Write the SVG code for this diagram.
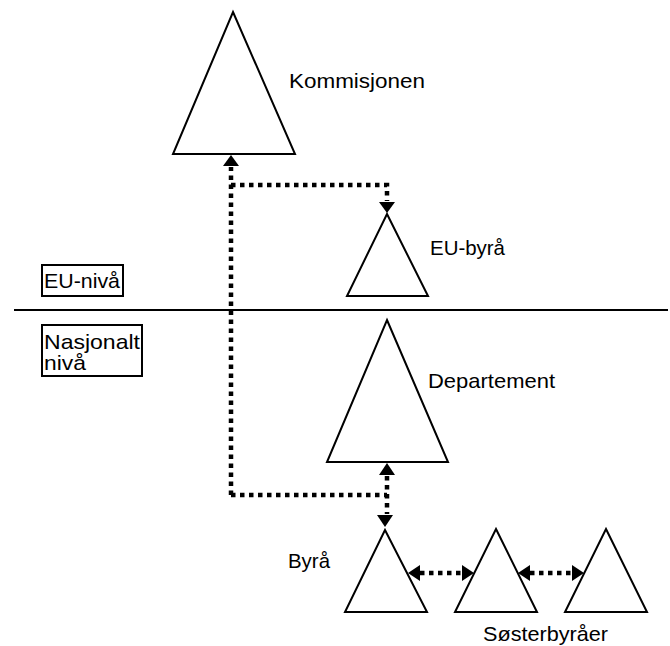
<svg xmlns="http://www.w3.org/2000/svg" width="670" height="646" viewBox="0 0 670 646">
<defs>
<style>
.tri{fill:#fff;stroke:#000;stroke-width:2}
.lbl{font-family:"Liberation Sans",Arial,sans-serif;font-size:21px;fill:#000}
.dot{fill:none;stroke:#000;stroke-width:4.5;stroke-dasharray:4.5 4.5}
.box{fill:#fff;stroke:#000;stroke-width:2}
.ah{fill:#000}
</style>
</defs>
<rect width="670" height="646" fill="#fff"/>
<g id="levels">
<line x1="14" y1="310" x2="668" y2="310" stroke="#000" stroke-width="2"/>
<g id="eu-niva"><rect class="box" x="42" y="265" width="81" height="31"/><text class="lbl" x="44" y="288" textLength="76" lengthAdjust="spacingAndGlyphs">EU-nivå</text></g>
<g id="nasjonalt-niva"><rect class="box" x="42" y="325" width="100" height="51"/><text class="lbl" x="44" y="349" textLength="96" lengthAdjust="spacingAndGlyphs">Nasjonalt</text><text class="lbl" x="44" y="370" textLength="42" lengthAdjust="spacingAndGlyphs">nivå</text></g>
</g>
<g id="kommisjonen"><polygon class="tri" points="233,12 295,154 173,154"/><text class="lbl" x="289" y="88" textLength="136" lengthAdjust="spacingAndGlyphs">Kommisjonen</text></g>
<g id="eu-byra"><polygon class="tri" points="387,214 428,296 347,296"/><text class="lbl" x="430" y="255" textLength="75" lengthAdjust="spacingAndGlyphs">EU-byrå</text></g>
<g id="departement"><polygon class="tri" points="387,320 448,462 327,462"/><text class="lbl" x="428" y="388" textLength="127" lengthAdjust="spacingAndGlyphs">Departement</text></g>
<g id="byra"><polygon class="tri" points="385,530 427,612 345,612"/><text class="lbl" x="288" y="568" textLength="42" lengthAdjust="spacingAndGlyphs">Byrå</text></g>
<g id="soster1"><polygon class="tri" points="496,529 537,612 455,612"/></g>
<g id="soster2"><polygon class="tri" points="606,529 647,612 565,612"/></g>
<text class="lbl" x="483" y="641" textLength="125" lengthAdjust="spacingAndGlyphs">Søsterbyråer</text>
<g id="connectors">
<path class="dot" d="M231,495 V167"/>
<path class="dot" d="M231,185 H387 V201"/>
<path class="ah" d="M231,155 L223,166 L239,166 Z"/>
<path class="ah" d="M387,213 L379,202 L395,202 Z"/>
<path class="dot" d="M231,495 H387"/>
<path class="dot" d="M387,476 V514"/>
<path class="ah" d="M387,463 L379,475 L395,475 Z"/>
<path class="ah" d="M385,527 L377,515 L393,515 Z"/>
<path class="dot" d="M420,573 H462"/>
<path class="ah" d="M408,573 L420,565 L420,581 Z"/>
<path class="ah" d="M474,573 L462,565 L462,581 Z"/>
<path class="dot" d="M530,573 H572"/>
<path class="ah" d="M518,573 L530,565 L530,581 Z"/>
<path class="ah" d="M584,573 L572,565 L572,581 Z"/>
</g>
</svg>
